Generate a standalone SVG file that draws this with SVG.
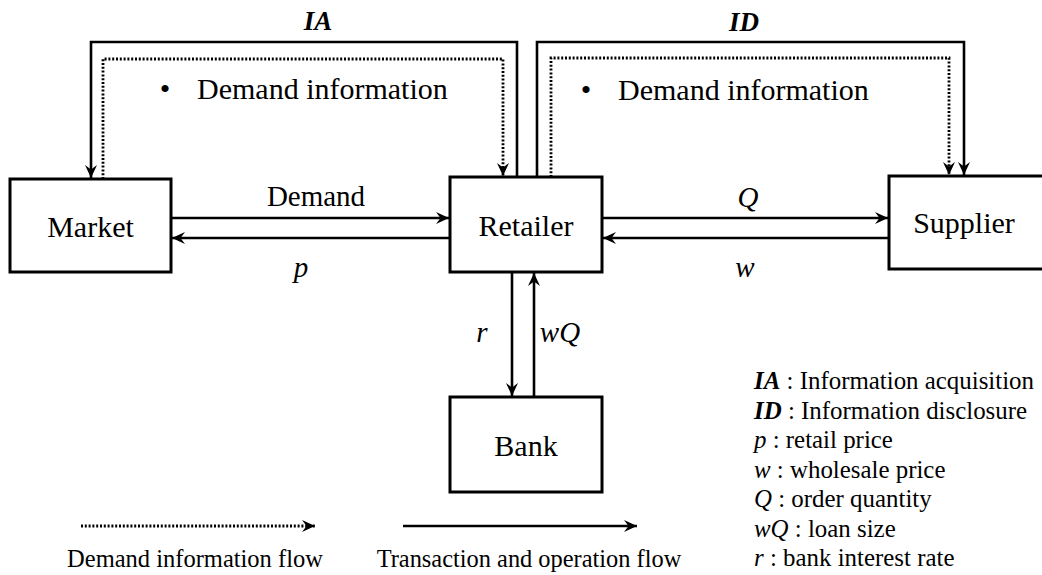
<svg xmlns="http://www.w3.org/2000/svg" width="1042" height="575" viewBox="0 0 1042 575">
<defs>
<marker id="ah" markerUnits="userSpaceOnUse" markerWidth="16" markerHeight="14" viewBox="-14 -7 16 14" refX="0" refY="0" orient="auto">
<path d="M0,0 L-13,-6 L-8.5,0 L-13,6 Z" fill="#000"/>
</marker>
</defs>
<style>
text{font-family:"Liberation Serif","Times New Roman",serif;fill:#000}
.node rect{fill:#fff;stroke:#000;stroke-width:3}
.lbl{font-size:30px;text-anchor:middle}
.el{font-size:29px;text-anchor:middle;font-style:italic}
.solid{fill:none;stroke:#000;stroke-width:2.6;marker-end:url(#ah)}
.dot{fill:none;stroke:#000;stroke-width:2.8;stroke-dasharray:2 1.8;marker-end:url(#ah)}
.bi{font-weight:bold;font-style:italic}
.it{font-style:italic}
.key{font-size:24.9px}
</style>
<g id="connectors">
<path class="solid" d="M517,177 V42 H91 V178"/>
<path class="dot" d="M103,179 V59 H503 V176"/>
<path class="solid" d="M537,177 V42 H964 V175"/>
<path class="dot" d="M551,177 V58 H949 V175"/>
<path class="solid" d="M171,218 H449"/>
<path class="solid" d="M450,238 H172"/>
<path class="solid" d="M602,218 H888"/>
<path class="solid" d="M889,238 H603"/>
<path class="solid" d="M512,272 V396"/>
<path class="solid" d="M534,397 V273"/>
<path class="dot" d="M81,526 H315"/>
<path class="solid" d="M403,526 H637"/>
</g>
<g id="market" class="node"><rect x="10" y="179" width="161" height="93"/><text class="lbl" x="90.5" y="237">Market</text></g>
<g id="retailer" class="node"><rect x="450" y="177" width="152" height="95"/><text class="lbl" x="526" y="236">Retailer</text></g>
<g id="supplier" class="node"><rect x="889" y="176" width="155" height="93"/><text class="lbl" x="964" y="233">Supplier</text></g>
<g id="bank" class="node"><rect x="450" y="397" width="152" height="95"/><text class="lbl" x="526" y="456">Bank</text></g>
<g id="labels">
<text class="bi" x="318" y="30" font-size="27" text-anchor="middle">IA</text>
<text class="bi" x="744" y="31" font-size="27" text-anchor="middle">ID</text>
<text x="165" y="99" font-size="30" text-anchor="middle">•</text>
<text x="197" y="99" font-size="30">Demand information</text>
<text x="586" y="100" font-size="30" text-anchor="middle">•</text>
<text x="618" y="100" font-size="30">Demand information</text>
<text x="316" y="206" font-size="29" text-anchor="middle">Demand</text>
<text class="el" x="301" y="277">p</text>
<text class="el" x="748" y="207">Q</text>
<text class="el" x="745" y="277">w</text>
<text class="el" x="482" y="342">r</text>
<text class="el" x="560" y="342">wQ</text>
<text x="195" y="567" font-size="24.5" text-anchor="middle">Demand information flow</text>
<text x="529" y="567" font-size="24.4" text-anchor="middle">Transaction and operation flow</text>
</g>
<g id="key" class="key">
<text x="754" y="389"><tspan class="bi">IA</tspan> : Information acquisition</text>
<text x="754" y="418.5"><tspan class="bi">ID</tspan> : Information disclosure</text>
<text x="754" y="448"><tspan class="it">p</tspan> : retail price</text>
<text x="754" y="477.5"><tspan class="it">w</tspan> : wholesale price</text>
<text x="754" y="507"><tspan class="it">Q</tspan> : order quantity</text>
<text x="754" y="536.5"><tspan class="it">wQ</tspan> : loan size</text>
<text x="754" y="566"><tspan class="it">r</tspan> : bank interest rate</text>
</g>
</svg>
